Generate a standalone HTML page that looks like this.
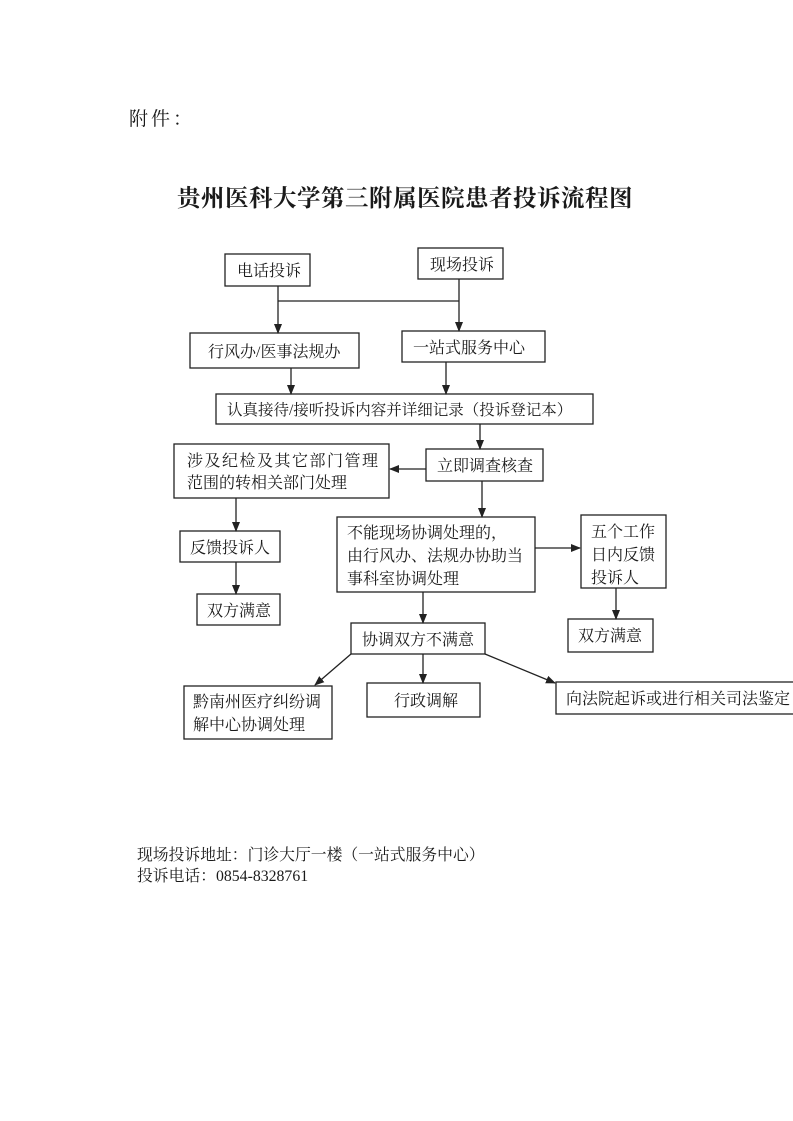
<!DOCTYPE html>
<html><head><meta charset="utf-8">
<style>
html,body{margin:0;padding:0;background:#fff;}
svg{display:block;}
text{font-family:"Liberation Serif","Noto Serif CJK SC",serif;fill:#1a1a1a;}
</style></head>
<body>
<svg width="793" height="1121" viewBox="0 0 793 1121" xmlns="http://www.w3.org/2000/svg">
<defs>
<marker id="a" markerWidth="10" markerHeight="10" refX="9" refY="5" orient="auto" markerUnits="userSpaceOnUse">
<path d="M0,1 L10,5 L0,9 Z" fill="#222"/>
</marker>
</defs>
<rect width="793" height="1121" fill="#fff"/>
<text x="129" y="125" font-size="19" letter-spacing="3">附件：</text>
<text x="177" y="206" font-size="23.5" font-weight="bold" letter-spacing="0.5">贵州医科大学第三附属医院患者投诉流程图</text>

<g fill="none" stroke="#222" stroke-width="1.3">
<rect x="225" y="254" width="85" height="32"/>
<rect x="418" y="248" width="85" height="31"/>
<rect x="190" y="333" width="169" height="35"/>
<rect x="402" y="331" width="143" height="31"/>
<rect x="216" y="394" width="377" height="30"/>
<rect x="426" y="449" width="117" height="32"/>
<rect x="174" y="444" width="215" height="54"/>
<rect x="180" y="531" width="100" height="31"/>
<rect x="197" y="594" width="83" height="31"/>
<rect x="337" y="517" width="198" height="75"/>
<rect x="581" y="515" width="85" height="73"/>
<rect x="568" y="619" width="85" height="33"/>
<rect x="351" y="623" width="134" height="31"/>
<rect x="184" y="686" width="148" height="53"/>
<rect x="367" y="683" width="113" height="34"/>
<rect x="556" y="682" width="245" height="32"/>
</g>

<g stroke="#222" stroke-width="1.3" fill="none">
<line x1="278" y1="286" x2="278" y2="333" marker-end="url(#a)"/>
<line x1="459" y1="279" x2="459" y2="331" marker-end="url(#a)"/>
<line x1="278" y1="301" x2="459" y2="301"/>
<line x1="291" y1="368" x2="291" y2="394" marker-end="url(#a)"/>
<line x1="446" y1="362" x2="446" y2="394" marker-end="url(#a)"/>
<line x1="480" y1="424" x2="480" y2="449" marker-end="url(#a)"/>
<line x1="426" y1="469" x2="390" y2="469" marker-end="url(#a)"/>
<line x1="482" y1="481" x2="482" y2="517" marker-end="url(#a)"/>
<line x1="236" y1="498" x2="236" y2="531" marker-end="url(#a)"/>
<line x1="236" y1="562" x2="236" y2="594" marker-end="url(#a)"/>
<line x1="535" y1="548" x2="580" y2="548" marker-end="url(#a)"/>
<line x1="616" y1="588" x2="616" y2="619" marker-end="url(#a)"/>
<line x1="423" y1="592" x2="423" y2="623" marker-end="url(#a)"/>
<line x1="351" y1="654" x2="315" y2="685" marker-end="url(#a)"/>
<line x1="423" y1="654" x2="423" y2="683" marker-end="url(#a)"/>
<line x1="485" y1="654" x2="555" y2="683" marker-end="url(#a)"/>
</g>

<g font-size="16">
<text x="237" y="276">电话投诉</text>
<text x="430" y="270">现场投诉</text>
<text x="208" y="357">行风办/医事法规办</text>
<text x="413" y="353">一站式服务中心</text>
<text x="227" y="415" font-size="15.5">认真接待/接听投诉内容并详细记录（投诉登记本）</text>
<text x="437" y="471">立即调查核查</text>
<text x="187" y="466" letter-spacing="1.5">涉及纪检及其它部门管理</text>
<text x="187" y="488">范围的转相关部门处理</text>
<text x="190" y="553">反馈投诉人</text>
<text x="207" y="616">双方满意</text>
<text x="347" y="538">不能现场协调处理的，</text>
<text x="347" y="561">由行风办、法规办协助当</text>
<text x="347" y="584">事科室协调处理</text>
<text x="591" y="537">五个工作</text>
<text x="591" y="560">日内反馈</text>
<text x="591" y="583">投诉人</text>
<text x="578" y="641">双方满意</text>
<text x="362" y="645">协调双方不满意</text>
<text x="193" y="707">黔南州医疗纠纷调</text>
<text x="193" y="730">解中心协调处理</text>
<text x="394" y="706">行政调解</text>
<text x="566" y="704">向法院起诉或进行相关司法鉴定</text>
</g>

<text x="137" y="860" font-size="15.8">现场投诉地址：门诊大厅一楼（一站式服务中心）</text>
<text x="137" y="881" font-size="15.8">投诉电话：0854-8328761</text>
</svg>
</body></html>
